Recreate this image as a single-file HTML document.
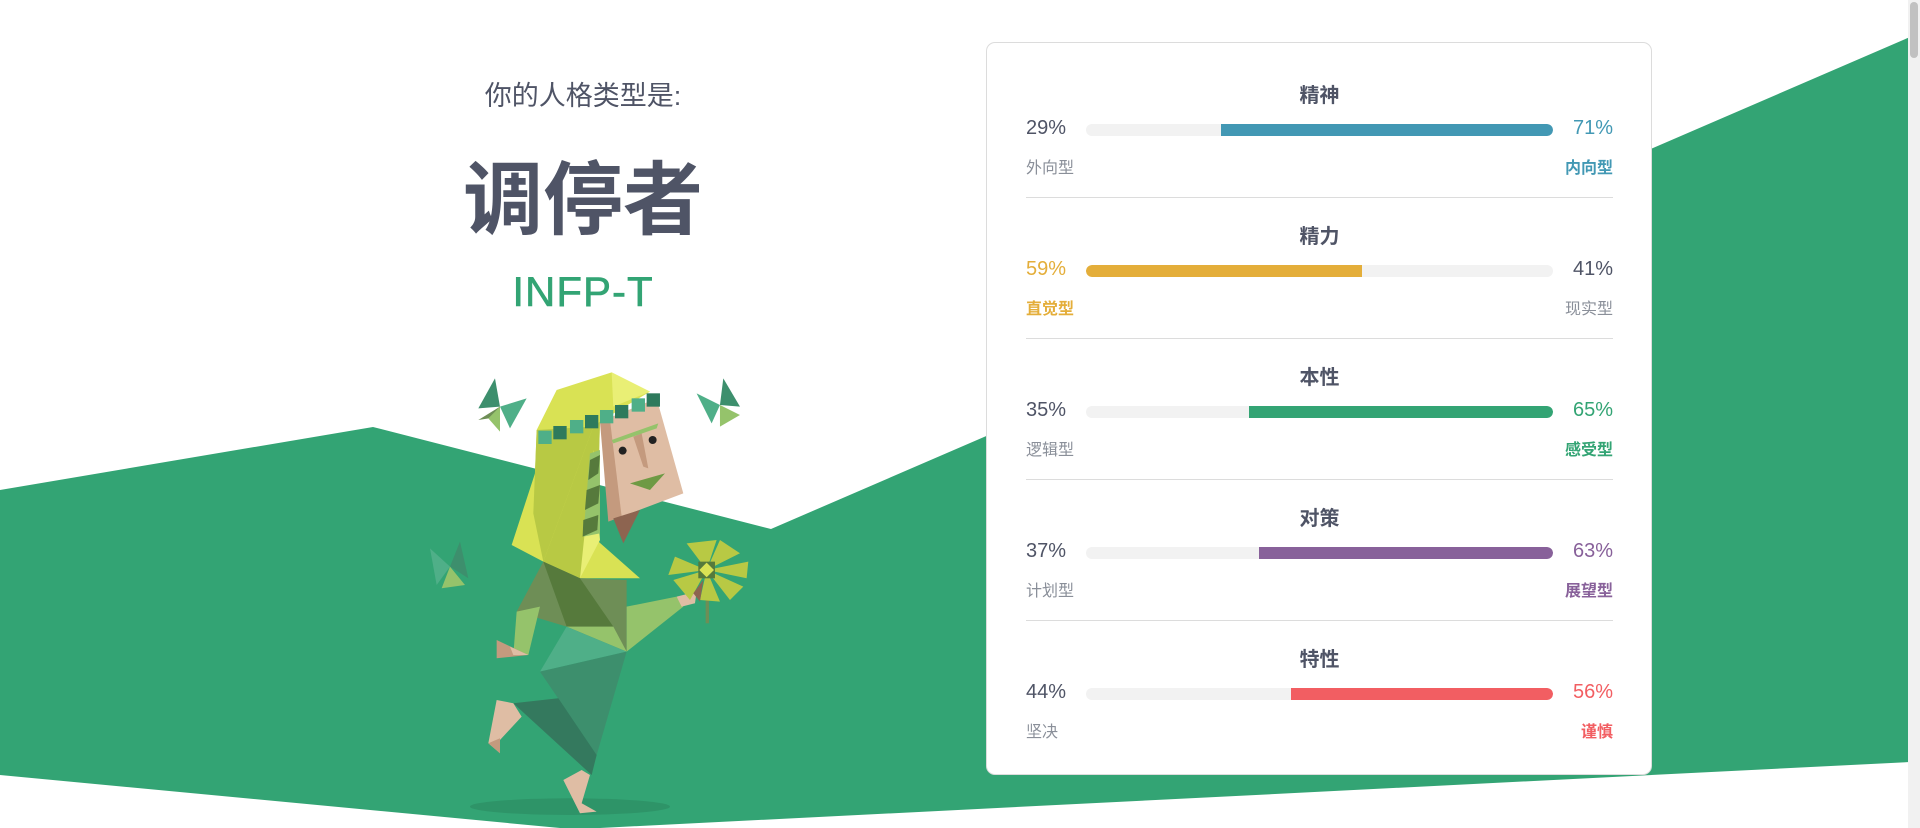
<!DOCTYPE html>
<html><head><meta charset="utf-8">
<style>
html,body{margin:0;padding:0;width:1920px;height:828px;overflow:hidden;background:#fff;font-family:"Liberation Sans","Noto Sans CJK SC",sans-serif;}
#bg{position:absolute;left:0;top:0}
.t{position:absolute;text-align:center;width:600px;left:283px;}
#card{position:absolute;left:986px;top:42px;width:666px;height:733px;background:#fff;border:1px solid #dcdcdc;border-radius:9px;box-sizing:border-box;}
#scroll{position:absolute;left:1908px;top:0;width:12px;height:828px;background:#f1f1f1}
#thumb{position:absolute;left:1910px;top:2px;width:8px;height:56px;background:#c1c1c1;border-radius:4px}
</style></head><body>
<svg id="bg" width="1920" height="828">
<polygon fill="#33a474" points="0,490 373,427 771,529 1910,37 1910,762 600,828 560,828 0,775"/>
</svg>
<div class="t" style="top:74px;font-size:27px;color:#4f5466;">你的人格类型是:</div>
<div class="t" style="top:136px;font-size:80px;font-weight:bold;color:#4f5466;">调停者</div>
<div class="t" style="top:268px;font-size:42px;color:#33a474;letter-spacing:1px;-webkit-text-stroke:0.6px #33a474;">INFP-T</div>

<svg width="1920" height="828" style="position:absolute;left:0;top:0">
<g transform="translate(400,340) scale(0.3333)">
<ellipse cx="510" cy="1400" rx="300" ry="25" fill="#2e9468"/>
<polygon fill="#3d8f6d" points="235,205 285,115 300,200"/>
<polygon fill="#4faf88" points="300,200 380,175 330,265"/>
<polygon fill="#6e8e56" points="235,240 300,200 300,230"/>
<polygon fill="#95c36b" points="265,235 300,200 300,275"/>
<polygon fill="#4faf88" points="890,160 960,195 935,250"/>
<polygon fill="#3d8f6d" points="960,195 970,115 1020,200"/>
<polygon fill="#95c36b" points="960,195 960,260 1020,225"/>
<polygon fill="#4faf88" points="90,625 150,680 110,735"/>
<polygon fill="#3d8f6d" points="150,680 180,605 205,715"/>
<polygon fill="#95c36b" points="150,680 125,745 195,735"/>
<polygon fill="#d9e254" points="470,150 635,97 750,155 600,245 590,600 720,715 540,715 430,665 335,615 405,400 410,270"/>
<polygon fill="#e9ef75" points="635,97 750,155 640,200"/>
<polygon fill="#b8c944" points="410,270 580,260 430,665 400,520"/>
<polygon fill="#b8c944" points="580,260 600,245 590,600 540,715 430,665"/>
<polygon fill="#e9ef75" points="580,330 600,600 540,715"/>
<polygon fill="#95c36b" points="570,340 600,330 600,580 550,590"/>
<polygon fill="#567a3c" points="570,360 600,345 595,400 565,420"/>
<polygon fill="#567a3c" points="560,450 600,435 595,490 555,510"/>
<polygon fill="#567a3c" points="550,540 595,525 592,570 548,590"/>
<polygon fill="#dfbda4" points="600,245 770,175 850,460 665,530"/>
<polygon fill="#c49a7e" points="600,245 630,240 665,530 625,545"/>
<polygon fill="#c49a7e" points="700,290 725,280 745,385 730,380"/>
<polygon fill="#95c36b" points="635,300 775,250 770,265 640,310"/>
<polygon fill="#6e9a44" points="690,430 795,400 750,450"/>
<circle cx="668" cy="332" r="12" fill="#222"/><circle cx="758" cy="300" r="12" fill="#222"/>
<polygon fill="#8d6450" points="640,535 720,510 670,610"/>
<g fill="#2e7a5c"><rect x="740" y="160" width="40" height="40"/><rect x="645" y="195" width="40" height="40"/><rect x="555" y="225" width="40" height="40"/><rect x="460" y="258" width="40" height="40"/></g>
<g fill="#4faf88"><rect x="695" y="175" width="40" height="40"/><rect x="600" y="210" width="40" height="40"/><rect x="510" y="240" width="40" height="40"/><rect x="415" y="272" width="40" height="40"/></g>
<polygon fill="#6e8e56" points="430,665 540,715 680,720 680,935 500,860 350,815"/>
<polygon fill="#567a3c" points="430,665 540,715 640,860 500,860"/>
<polygon fill="#95c36b" points="680,800 830,770 850,800 680,935"/>
<polygon fill="#dfbda4" points="830,770 890,755 885,790 845,800"/>
<polygon fill="#95c36b" points="350,815 420,800 385,945 340,945"/>
<polygon fill="#c49a7e" points="290,900 385,945 290,955"/>
<polygon fill="#dfbda4" points="330,920 385,945 340,945"/>
<polygon fill="#95c36b" points="500,860 640,860 680,935"/>
<polygon fill="#4faf88" points="500,860 680,935 420,995"/>
<polygon fill="#3d8f6d" points="420,995 680,935 590,1245"/>
<polygon fill="#34795e" points="340,1090 475,1075 590,1245 575,1305"/>
<polygon fill="#dfbda4" points="290,1080 340,1090 365,1130 300,1200 300,1240 265,1210"/>
<polygon fill="#c49a7e" points="265,1210 300,1195 300,1240"/>
<polygon fill="#dfbda4" points="490,1320 545,1290 570,1305 545,1390 590,1415 540,1420"/>
<rect x="917" y="700" width="10" height="150" fill="#6e8e56"/>
<g fill="#b8c944"><polygon points="920,690 860,610 950,600"/><polygon points="920,690 960,600 1020,640"/><polygon points="920,690 1045,665 1040,715"/><polygon points="920,690 1030,740 990,780"/><polygon points="920,690 960,785 900,780"/><polygon points="920,690 870,780 820,720"/><polygon points="920,690 805,705 825,650"/></g>
<rect x="895" y="665" width="50" height="50" fill="#567a3c"/>
<polygon fill="#d9e254" points="920,668 942,690 920,712 898,690"/>
<polygon fill="#8d6450" points="880,760 910,720 900,785"/>
</g></svg>

<div id="card"></div>
<div id="rows"></div>
<div id="scroll"></div>
<div id="thumb"></div>

<script>
const traitTitles = ["精神","精力","本性","对策","特性"];
const leftValues = [29,59,35,37,44];
const leftLabels = ["外向型","直觉型","逻辑型","计划型","坚决"];
const rightLabels = ["内向型","现实型","感受型","展望型","谨慎"];
const traitColors = ["#4298b4","#e4ae3a","#33a474","#88619a","#f25e62"];

const rows = document.getElementById('rows');
const barX = 1086, barW = 467, rowH = 141, top0 = 93;
function mk(tag, css, text){const e=document.createElement(tag);e.style.cssText='position:absolute;'+css;if(text!==undefined)e.textContent=text;rows.appendChild(e);return e;}
traitTitles.forEach((t,i)=>{
  const y = top0 + i*rowH;
  const lv = leftValues[i], rv = 100-lv;
  const leftWins = lv > rv;
  const c = traitColors[i];
  const title = mk('div',`left:1026px;width:587px;top:${y-14}px;text-align:center;font-size:20px;font-weight:bold;color:#4f5466;`,t);
  
  
  const lp = mk('div',`left:1026px;top:${y+24}px;font-size:20px;color:${leftWins?c:'#4f5466'};`,lv+'%');
  
  
  const rp = mk('div',`right:${1920-1613}px;top:${y+24}px;font-size:20px;color:${leftWins?'#4f5466':c};`,rv+'%');
  
  
  const track = mk('div',`left:${barX}px;top:${y+31}px;width:${barW}px;height:12px;border-radius:6px;background:#f2f2f2;overflow:hidden;`);
  
  
  const fill = document.createElement('div');
  const fw = barW*(leftWins?lv:rv)/100;
  fill.style.cssText=`position:absolute;top:0;height:12px;background:${c};width:${fw}px;${leftWins?'left:0;border-radius:6px 0 0 6px':'right:0;border-radius:0 6px 6px 0'}`;
  
  
  track.appendChild(fill);
  const ll = mk('div',`left:1026px;top:${y+61}px;font-size:16px;color:${leftWins?c:'#8a8f99'};${leftWins?'font-weight:bold;':''}`,leftLabels[i]);
  
  
  const rl = mk('div',`right:${1920-1613}px;top:${y+61}px;font-size:16px;color:${leftWins?'#8a8f99':c};${leftWins?'':'font-weight:bold;'}`,rightLabels[i]);
  
  
  if(i<traitTitles.length-1){
    const d = mk('div',`left:1026px;top:${y+104}px;width:587px;height:1px;background:#dcdcdc;`);
    
    
  }
});
</script>
</body></html>
